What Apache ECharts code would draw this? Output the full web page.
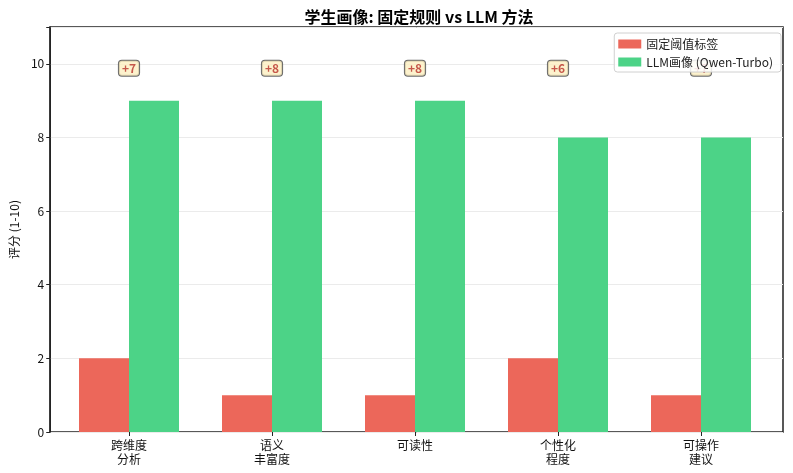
<!DOCTYPE html>
<html><head><meta charset="utf-8">
<script src="https://cdn.jsdelivr.net/npm/echarts@6/dist/echarts.min.js"></script>
<style>html,body{margin:0;padding:0;background:#fff}#c{width:793px;height:473px}</style>
</head><body><div id="c"></div>
<script>
var categories = ['跨维度\n分析', '语义\n丰富度', '可读性', '个性化\n程度', '可操作\n建议'];
var fixedScores = [2, 1, 1, 2, 1];
var llmScores = [9, 9, 9, 8, 8];
var yTicks = [0, 2, 4, 6, 8, 10];
var annotationLevel = 9.88;
var seriesNames = ['固定阈值标签', 'LLM画像 (Qwen-Turbo)'];

var font = '"Noto Sans CJK SC","DejaVu Sans",sans-serif';
var chart = echarts.init(document.getElementById('c'));
chart.setOption({
  animation: false,
  textStyle: { fontFamily: font },
  title: {
    text: '学生画像: 固定规则 vs LLM 方法',
    left: 414, top: 4, textAlign: 'center',
    textStyle: { fontSize: 16, fontWeight: 'bold', color: '#000', fontFamily: font }
  },
  legend: {
    right: 12, top: 33, orient: 'vertical', itemWidth: 23, itemHeight: 9, itemGap: 6,
    icon: 'rect',
    backgroundColor: 'rgba(255,255,255,0.85)', borderColor: '#d0d0d0', borderWidth: 1,
    borderRadius: 3, padding: [5, 8, 4, 4], z: 10,
    textStyle: { fontSize: 12, color: '#222', fontFamily: font },
    data: seriesNames
  },
  grid: [
    { left: 46, right: 10, top: 27, bottom: 41, show: true, borderColor: '#222', borderWidth: 1.5 },
    { left: 57.5, right: 20.5, top: 27, bottom: 41 }
  ],
  xAxis: [
    { type: 'value', gridIndex: 0, min: 0, max: 1, show: false },
    { type: 'category', gridIndex: 1, data: categories, boundaryGap: true,
      axisLine: { show: false },
      axisTick: { show: true, alignWithLabel: true, length: 4, lineStyle: { color: '#222' } },
      axisLabel: { color: '#111', fontSize: 12, lineHeight: 14, margin: 6, interval: 0 } }
  ],
  yAxis: [
    { type: 'value', gridIndex: 0, min: 0, max: 11, interval: 2,
      name: '评分 (1-10)', nameLocation: 'middle', nameGap: 30,
      nameTextStyle: { fontSize: 12, color: '#111', fontFamily: font },
      axisLine: { show: true, onZero: false, lineStyle: { color: '#222', width: 1.5 } },
      axisTick: { show: true, length: 4, lineStyle: { color: '#222' } },
      axisLabel: { color: '#111', fontSize: 12, margin: 6,
        formatter: function (v) { return yTicks.indexOf(v) >= 0 ? String(v) : ''; } },
      splitLine: { show: true, lineStyle: { color: '#ebebeb', width: 1 } } },
    { type: 'value', gridIndex: 1, min: 0, max: 11, show: false, splitLine: { show: false } }
  ],
  series: [
    { name: seriesNames[0], type: 'bar', xAxisIndex: 1, yAxisIndex: 1, barWidth: 50, barGap: '0%',
      itemStyle: { color: '#EC675A' }, data: fixedScores },
    { name: seriesNames[1], type: 'bar', xAxisIndex: 1, yAxisIndex: 1, barWidth: 50, barGap: '0%',
      itemStyle: { color: '#4CD387' }, data: llmScores },
    { name: 'diff', type: 'scatter', xAxisIndex: 1, yAxisIndex: 1, symbolSize: 0, z: 5,
      data: llmScores.map(function () { return annotationLevel; }),
      label: { show: true, position: 'inside',
        formatter: function (p) { return '+' + (llmScores[p.dataIndex] - fixedScores[p.dataIndex]); },
        color: '#B8322A', fontWeight: 'bold', fontSize: 12, fontFamily: font,
        backgroundColor: '#FCEFC0', borderColor: '#444', borderWidth: 1, borderRadius: 3,
        padding: [2, 3, 1, 3] }
    }
  ]
});
</script></body></html>
